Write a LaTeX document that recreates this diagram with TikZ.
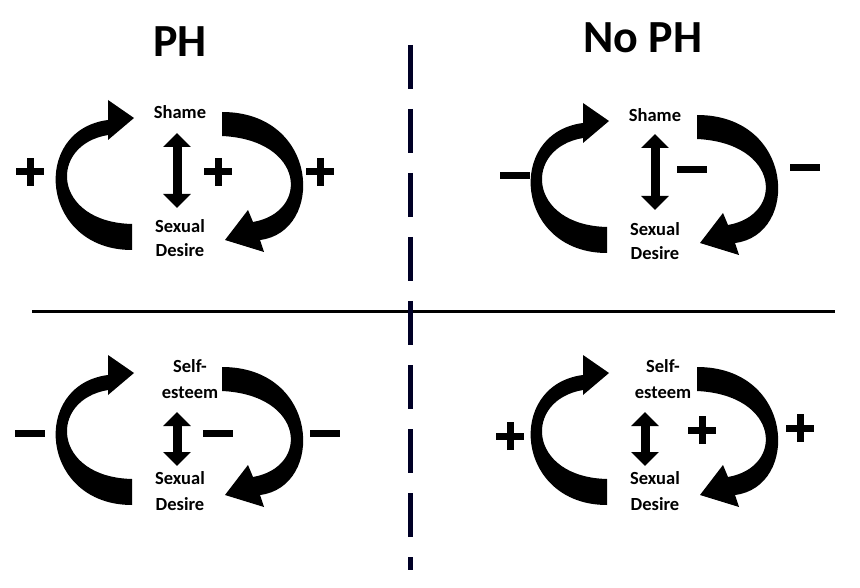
\documentclass[tikz,border=0pt]{standalone}
\usepackage{fontspec}
\setmainfont{Carlito}
\usetikzlibrary{arrows.meta}

\tikzset{
  lbl/.style={font=\fontsize{18.5}{19}\selectfont\bfseries, inner sep=0pt},
  ttl/.style={font=\fontsize{46}{48}\selectfont\bfseries, inner sep=0pt},
  sgnline/.style={line width=7pt, draw=black},
  dbl/.style={line width=9pt, {Triangle[length=14pt,width=27pt]}-{Triangle[length=14pt,width=27pt]}},
}

% the two curved block arrows of one quadrant
\newcommand{\cyclearrows}{%
  \fill (132,250) .. controls (40,250) and (30,130) .. (108,120)
    -- (108,100) -- (134,118) -- (108,140) -- (108,135)
    .. controls (48,145) and (52,222) .. (132,224) -- cycle;
  \fill (222,112) .. controls (320,112) and (325,232) .. (260,240)
    -- (264,252) -- (225,240) -- (248,210) -- (253,222)
    .. controls (310,212) and (305,140) .. (222,136) -- cycle;
}
% signs
\newcommand{\plussign}[1]{%
  \draw[sgnline] ([xshift=-14pt]#1) -- ([xshift=14pt]#1);
  \draw[sgnline] ([yshift=-14pt]#1) -- ([yshift=14pt]#1);
}
\newcommand{\minussign}[1]{%
  \draw[sgnline] ([xshift=-15pt]#1) -- ([xshift=15pt]#1);
}

\begin{document}
\begin{tikzpicture}[x=1pt,y=-1pt]
  \useasboundingbox (0,0) rectangle (860,588);

  % titles
  \node[ttl] (tph) at (180,42) {PH};
  \node[ttl] (tnoph) at (643,38) {No PH};

  % dividers
  \coordinate (hl) at (32,312);
  \coordinate (hr) at (835,312);
  \coordinate (vt) at (410,45);
  \coordinate (vb) at (410,570);
  \draw[line width=3pt] (hl) -- (hr);
  \draw[line width=5pt, dash pattern=on 44pt off 20pt, draw=black!85!blue] (vt) -- (vb);

  % PH, shame
  \cyclearrows
  \node[lbl] (sh1) at (180,112) {Shame};
  \node[lbl] (sx1) at (180,226) {Sexual};
  \node[lbl] (de1) at (180,250) {Desire};
  \coordinate (a1t) at (177,133);
  \coordinate (a1b) at (177,208);
  \draw[dbl] (a1t) -- (a1b);
  \coordinate (p1l) at (30,172);
  \coordinate (p1m) at (218,172);
  \coordinate (p1r) at (320,172);
  \plussign{p1l} \plussign{p1m} \plussign{p1r}

  % No PH, shame
  \begin{scope}[shift={(475,3)}]
    \cyclearrows
  \end{scope}
  \node[lbl] (sh2) at (655,115) {Shame};
  \node[lbl] (sx2) at (655,229) {Sexual};
  \node[lbl] (de2) at (655,253) {Desire};
  \coordinate (a2t) at (655,134);
  \coordinate (a2b) at (655,210);
  \draw[dbl] (a2t) -- (a2b);
  \coordinate (p2l) at (515,176);
  \coordinate (p2m) at (692,170);
  \coordinate (p2r) at (805,168);
  \minussign{p2l} \minussign{p2m} \minussign{p2r}

  % PH, self-esteem
  \begin{scope}[shift={(0,255)}]
    \cyclearrows
  \end{scope}
  \node[lbl] (se3) at (190,366) {Self-};
  \node[lbl] (es3) at (190,393) {esteem};
  \node[lbl] (sx3) at (180,478) {Sexual};
  \node[lbl] (de3) at (180,504) {Desire};
  \coordinate (a3t) at (177,412);
  \coordinate (a3b) at (177,466);
  \draw[dbl] (a3t) -- (a3b);
  \coordinate (p3l) at (30,433);
  \coordinate (p3m) at (218,433);
  \coordinate (p3r) at (325,433);
  \minussign{p3l} \minussign{p3m} \minussign{p3r}

  % No PH, self-esteem
  \begin{scope}[shift={(475,255)}]
    \cyclearrows
  \end{scope}
  \node[lbl] (se4) at (663,366) {Self-};
  \node[lbl] (es4) at (663,393) {esteem};
  \node[lbl] (sx4) at (655,478) {Sexual};
  \node[lbl] (de4) at (655,504) {Desire};
  \coordinate (a4t) at (645,412);
  \coordinate (a4b) at (645,466);
  \draw[dbl] (a4t) -- (a4b);
  \coordinate (p4l) at (510,436);
  \coordinate (p4m) at (702,430);
  \coordinate (p4r) at (800,428);
  \plussign{p4l} \plussign{p4m} \plussign{p4r}
\end{tikzpicture}
\end{document}
